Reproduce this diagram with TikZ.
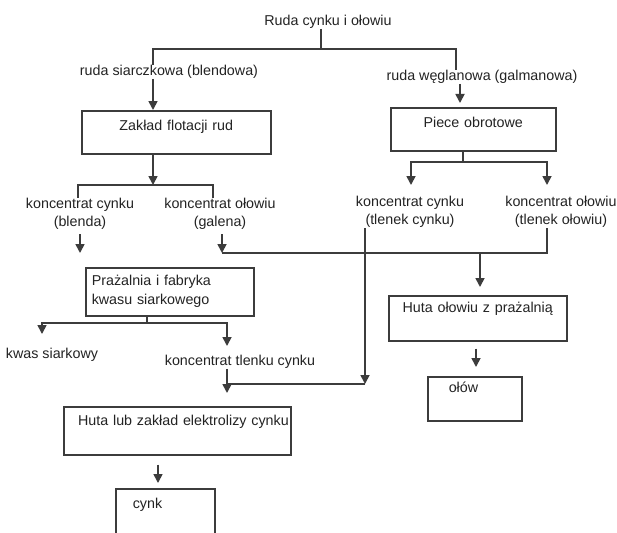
\documentclass[tikz,border=0pt]{standalone}
\usepackage{fontspec}
\setmainfont{Liberation Sans}
\usetikzlibrary{arrows.meta}
\definecolor{linegray}{RGB}{60,60,60}
\definecolor{textgray}{RGB}{35,35,35}

\begin{document}
\begin{tikzpicture}[x=1pt, y=1pt, yscale=-1,
    font=\fontsize{14.3}{18.5}\selectfont,
    wire/.style={draw=linegray, line width=1.7pt},
    flowarrow/.style={wire, -{Triangle[length=9pt,width=9pt]}},
    lbl/.style={inner sep=0pt, align=center, text=textgray},
    procbox/.style={draw=linegray, line width=1.5pt, anchor=north west, inner ysep=0pt, text=textgray}]

    % Canvas
    \path[use as bounding box, fill=white] (0,0) rectangle (617,532);

    % Define the positions of the joints
    \coordinate (rudaJoin) at (321,49);
    \coordinate (topL) at (153,49);
    \coordinate (topR) at (456,49);
    \coordinate (flotJoin) at (153,185);
    \coordinate (splitL) at (78,185);
    \coordinate (splitR) at (213,185);
    \coordinate (weglX) at (460,90);
    \coordinate (pieceJoin) at (463,162);
    \coordinate (pieceLtip) at (411,185);
    \coordinate (pieceRtip) at (547,185);
    \coordinate (galenaJoin) at (222,253);
    \coordinate (olowJoin) at (480,253);
    \coordinate (olowR) at (547,253);
    \coordinate (olowX) at (476,360);
    \coordinate (prazJoin) at (147,323);
    \coordinate (kwasTip) at (42,334);
    \coordinate (tlenTip) at (227,346);
    \coordinate (kcynTip) at (365,384);
    \coordinate (zincJoin) at (227,384);
    \coordinate (cynkX) at (158,470);

    % Draw the labels
    \node[lbl] (ruda) at (328,22) {Ruda cynku i ołowiu};
    \node[lbl] (siarcz) at (169,72) {ruda siarczkowa (blendowa)};
    \node[lbl] (wegl) at (482,77) {ruda węglanowa (galmanowa)};
    \node[lbl] (kcyn1) at (80,214) {koncentrat cynku\\(blenda)};
    \node[lbl] (kolow1) at (220,214) {koncentrat ołowiu\\(galena)};
    \node[lbl] (kcyn2) at (410,212) {koncentrat cynku\\(tlenek cynku)};
    \node[lbl] (kolow2) at (561,212) {koncentrat ołowiu\\(tlenek ołowiu)};
    \node[lbl] (kwas) at (52,355) {kwas siarkowy};
    \node[lbl] (ktlen) at (240,362) {koncentrat tlenku cynku};

    % Draw the boxes
    \node[procbox, text width=189pt, inner xsep=0pt, align=center, text height=20pt, text depth=23pt] (flot) at (81,110) {Zakład flotacji rud};
    \node[procbox, text width=165pt, inner xsep=0pt, align=center, text height=19.5pt, text depth=23.5pt] (piece) at (390,107) {Piece obrotowe};
    \node[procbox, text width=156pt, inner xsep=6pt, align=left, text height=18pt, text depth=30pt] (praz) at (85,267) {Prażalnia i fabryka\\kwasu siarkowego};
    \node[procbox, text width=178pt, inner xsep=0pt, align=center, text height=17pt, text depth=28pt] (hutaol) at (388,295) {Huta ołowiu z prażalnią};
    \node[procbox, text width=52pt, inner xsep=21pt, align=left, text height=16pt, text depth=28pt] (olow) at (427,376) {ołów};
    \node[procbox, text width=223pt, inner xsep=2pt, align=right, text height=19pt, text depth=29pt] (hutazn) at (63,406) {Huta lub zakład elektrolizy cynku};
    \node[procbox, text width=65pt, inner xsep=17pt, align=left, text height=20pt, text depth=60pt] (cynk) at (115,488) {cynk};

    % Draw the lines
    \draw[wire] (ruda.south -| rudaJoin) -- (rudaJoin);
    \draw[wire] (siarcz.north -| topL) -- (topL) -- (topR) -- (wegl.north -| topR);
    \draw[flowarrow] (siarcz.south -| topL) -- (flot.north -| topL);
    \draw[flowarrow] (flot.south -| flotJoin) -- (flotJoin);
    \draw[wire] (kcyn1.north -| splitL) |- (flotJoin) -| (kolow1.north -| splitR);
    \draw[flowarrow, shorten <=4pt, shorten >=14pt] (kcyn1.south) -- (kcyn1.south |- praz.north);
    \draw[flowarrow, shorten <=4pt] (kolow1.south -| galenaJoin) -- (galenaJoin);
    \draw[wire] (galenaJoin) -- (olowR) -- (olowR |- kolow2.south);
    \draw[flowarrow, shorten >=8pt] (olowJoin) -- (olowJoin |- hutaol.north);
    \draw[flowarrow, shorten <=7pt, shorten >=9pt] (hutaol.south -| olowX) -- (olow.north -| olowX);

    \draw[flowarrow, shorten >=4pt] (wegl.south -| weglX) -- (piece.north -| weglX);
    \draw[wire] (piece.south -| pieceJoin) -- (pieceJoin);
    \draw[flowarrow] (pieceJoin) -| (pieceLtip);
    \draw[flowarrow] (pieceJoin) -| (pieceRtip);

    \draw[flowarrow] (kcyn2.south -| kcynTip) -- (kcynTip);
    \draw[wire] (kcynTip) -- (zincJoin);
    \draw[flowarrow, shorten >=13pt] (ktlen.south -| zincJoin) -- (zincJoin |- hutazn.north);

    \draw[wire] (praz.south -| prazJoin) -- (prazJoin);
    \draw[flowarrow] (prazJoin) -| (kwasTip);
    \draw[flowarrow] (prazJoin) -| (tlenTip);
    \draw[flowarrow, shorten <=9pt, shorten >=5pt] (hutazn.south -| cynkX) -- (cynk.north -| cynkX);
\end{tikzpicture}
\end{document}
